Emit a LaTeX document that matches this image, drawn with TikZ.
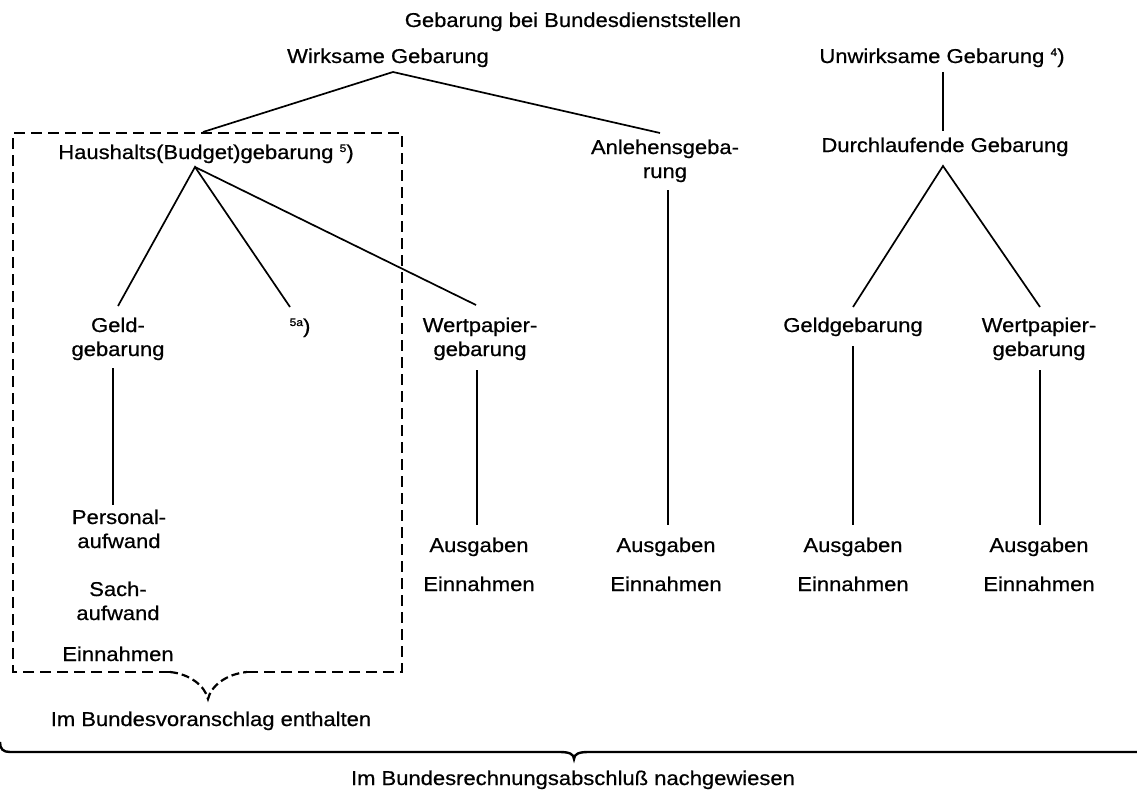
\documentclass[tikz,border=0pt]{standalone}
\usepackage{fontspec}
\setmainfont[FakeStretch=1.1,FakeBold=0.6]{Liberation Sans}
\usetikzlibrary{calc}
\newcommand{\fnmark}[1]{\raisebox{7pt}{\fontsize{11}{11}\selectfont #1}}
\begin{document}
\begin{tikzpicture}[x=1pt,y=-1pt,
  every node/.style={font=\fontsize{20}{24}\selectfont, align=center, inner sep=0pt, anchor=base},
  conn/.style={line width=1.7pt},
  boxline/.style={line width=2.2pt, dash pattern=on 11pt off 6pt},
  brace/.style={line width=2.4pt}]
\useasboundingbox (0,0) rectangle (1137,797);
% texts (anchor = baseline of the last line)
\node (title) at (573,27) {Gebarung bei Bundesdienststellen};
\node (wirk) at (388,63) {Wirksame Gebarung};
\node (unwirk) at (942,63) {Unwirksame Gebarung \fnmark{4})};
\node (haus) at (206,159) {Haushalts(Budget)gebarung \fnmark{5})};
\node (anl) at (665,178) {Anlehensgeba-\\rung};
\node (durch) at (945,152) {Durchlaufende Gebarung};
\node (geld) at (118,356) {Geld-\\gebarung};
\node (fn) at (300,333) {\fnmark{5a})};
\node (wp1) at (480,356) {Wertpapier-\\gebarung};
\node (geldg) at (853,332) {Geldgebarung};
\node (wp2) at (1039,356) {Wertpapier-\\gebarung};
\node (pers) at (119,548) {Personal-\\aufwand};
\node (sach) at (118,620) {Sach-\\aufwand};
\node (einh) at (118,661) {Einnahmen};
\node (aus1) at (479,552) {Ausgaben};
\node (ein1) at (479,591) {Einnahmen};
\node (aus2) at (666,552) {Ausgaben};
\node (ein2) at (666,591) {Einnahmen};
\node (aus3) at (853,552) {Ausgaben};
\node (ein3) at (853,591) {Einnahmen};
\node (aus4) at (1039,552) {Ausgaben};
\node (ein4) at (1039,591) {Einnahmen};
\node (voran) at (211,726) {Im Bundesvoranschlag enthalten};
\node (rech) at (573,785) {Im Bundesrechnungsabschluß nachgewiesen};
% connector end points
\coordinate (wA) at (393,72);
\coordinate (wL) at (203,132);
\coordinate (wR) at (660,133);
\coordinate (hA) at (195,167);
\coordinate (hG) at (118,306);
\coordinate (hF) at (290,307);
\coordinate (hW) at (476,305);
\coordinate (dA) at (943,166);
\coordinate (dG) at (853,307);
\coordinate (dW) at (1040,307);
% connectors
\draw[conn] (wL) -- (wA) -- (wR);
\draw[conn] (hG) -- (hA) -- (hF);
\draw[conn] (hA) -- (hW);
\draw[conn] (unwirk.base -| dA) ++(0,9) -- ($(durch.base -| dA)+(0,-21)$);
\draw[conn] (dG) -- (dA) -- (dW);
\draw[conn] ($(geld.base)+(-5,12)$) -- ($(pers.base)+(-6,-43)$);
\draw[conn] ($(wp1.base)+(-3,14)$) -- ($(aus1.base)+(-2,-27)$);
\draw[conn] ($(anl.base)+(3,12)$) -- ($(aus2.base)+(2,-27)$);
\draw[conn] ($(geldg.base)+(0,14)$) -- ($(aus3.base)+(0,-27)$);
\draw[conn] ($(wp2.base)+(1,14)$) -- ($(aus4.base)+(1,-27)$);
% dashed box with notch
\coordinate (bn) at (208,699);
\draw[boxline] (170,672) -- (13,672) -- (13,133) -- (402,133) -- (402,672) -- (247,672);
\draw[line width=2.2pt, dash pattern=on 8pt off 4pt] (170,672) .. controls (190,674) and (205,686) .. (bn) .. controls (211,686) and (226,674) .. (247,672);
% big brace
\coordinate (bt) at (574,759);
\draw[brace] (0,742) .. controls (0,749) and (3,752) .. (10,752) -- (560,752) .. controls (569,752) and (574,754) .. (bt) .. controls (574,754) and (579,752) .. (588,752) -- (1137,752);
\end{tikzpicture}
\end{document}
